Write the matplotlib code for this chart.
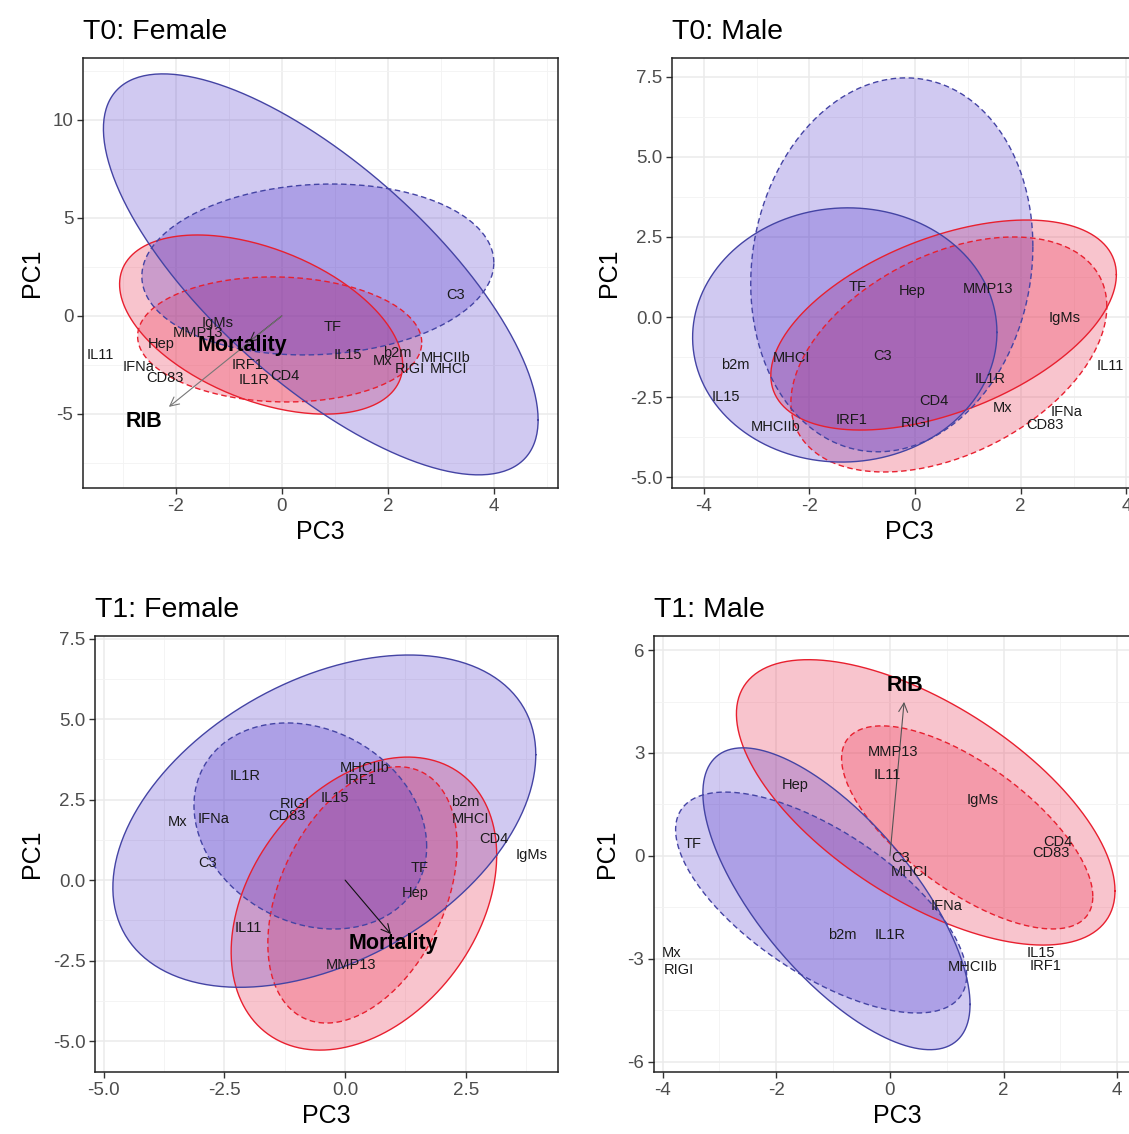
import matplotlib
matplotlib.use("Agg")
import matplotlib.pyplot as plt
import numpy as np

plt.rcParams['font.family'] = ['Liberation Sans', 'DejaVu Sans']

genes = ["b2m", "C3", "CD4", "CD83", "Hep", "IFNa", "IgMs", "IL11", "IL15",
         "IL1R", "IRF1", "MHCI", "MHCIIb", "MMP13", "Mx", "RIGI", "TF"]

# gene loadings, PC3 (x) and PC1 (y), same order as genes
t0f_x = [2.17, 3.28, 0.06, -2.21, -2.28, -2.70, -1.21, -3.43, 1.25,
         -0.53, -0.64, 3.15, 3.09, -1.58, 1.91, 2.42, 0.96]
t0f_y = [-1.89, 1.07, -3.06, -3.16, -1.43, -2.60, -0.36, -2.00, -1.99,
         -3.27, -2.50, -2.70, -2.14, -0.87, -2.30, -2.70, -0.56]
t0m_x = [-3.41, -0.62, 0.36, 2.46, -0.06, 2.86, 2.84, 3.69, -3.58,
         1.42, -1.21, -2.33, -2.63, 1.38, 1.65, 0.02, -1.08]
t0m_y = [-1.50, -1.22, -2.63, -3.38, 0.81, -2.97, -0.03, -1.53, -2.50,
         -1.94, -3.22, -1.28, -3.44, 0.88, -2.84, -3.31, 0.94]
t1f_x = [2.48, -2.84, 3.08, -1.20, 1.45, -2.73, 3.87, -2.01, -0.21,
         -2.07, 0.33, 2.59, 0.41, 0.12, -3.46, -1.04, 1.55]
t1f_y = [2.42, 0.53, 1.27, 1.99, -0.40, 1.89, 0.78, -1.49, 2.55,
         3.23, 3.11, 1.89, 3.48, -2.64, 1.80, 2.36, 0.37]
t1m_x = [-0.83, 0.18, 2.96, 2.83, -1.67, 0.99, 1.64, -0.05, 2.66,
         0.00, 2.73, 0.35, 1.46, 0.05, -3.84, -3.71, -3.47]
t1m_y = [-2.30, -0.06, 0.41, 0.09, 2.07, -1.46, 1.63, 2.36, -2.83,
         -2.30, -3.20, -0.47, -3.24, 3.03, -2.83, -3.32, 0.35]

# ellipses: centre x, centre y, half range x, half range y, correlation
# order: red solid, red dashed, blue solid, blue dashed (drawn in this order)
t0f_ell = [[-0.39, -0.44, 2.67, 4.57, -0.45],
           [-0.04, -1.20, 2.68, 3.19, -0.05],
           [0.735, 2.12, 4.10, 10.23, -0.726],
           [0.68, 2.37, 3.32, 4.36, 0.08]]
t0m_ell = [[0.54, -0.25, 3.27, 3.28, 0.48],
           [0.64, -1.17, 2.99, 3.67, 0.41],
           [-1.33, -0.56, 2.88, 3.97, 0.02],
           [-0.44, 1.63, 2.67, 5.84, 0.10]]
t1f_ell = [[0.39, -0.73, 2.75, 4.55, 0.33],
           [0.36, -0.46, 1.96, 3.98, 0.38],
           [-0.43, 1.83, 4.38, 5.16, 0.40],
           [-0.72, 1.68, 2.41, 3.20, -0.20]]
t1m_ell = [[0.63, 1.56, 3.33, 4.16, -0.62],
           [1.36, 0.83, 2.21, 2.96, -0.68],
           [-0.94, -1.25, 2.35, 4.40, -0.70],
           [-1.21, -1.36, 2.56, 3.22, -0.66]]

# covariate arrows: name, tip x, tip y, label x, label y, colour
t0f_arrows = [["Mortality", -0.62, -1.33, -0.74, -1.53, "#222222"],
              ["RIB", -2.13, -4.64, -2.60, -5.41, "#777777"]]
t0m_arrows = []
t1f_arrows = [["Mortality", 0.95, -1.68, 1.01, -1.96, "#111111"]]
t1m_arrows = [["RIB", 0.25, 4.49, 0.26, 4.96, "#555555"]]

ell_edge = ["#e8202f", "#e8202f", "#4444a4", "#4444a4"]
ell_fill = ["#eb3c5a", "#eb3c5a", "#4628c8", "#4628c8"]
ell_alpha = [0.3, 0.3, 0.25, 0.25]
ell_ls = ["-", (0, (4, 2.5)), "-", (0, (4, 2.5))]

W, H = 1129, 1134
fig = plt.figure(figsize=(W / 100, H / 100), dpi=100)


def add_panel(box, title, xs, ys, ells, arrows, xlim, ylim, xmaj, ymaj, xfmt, yfmt):
    l, t, r, b = box
    ax = fig.add_axes([l / W, 1 - b / H, (r - l) / W, (b - t) / H])
    ax.set_xticks(xmaj)
    ax.set_yticks(ymaj)
    ax.set_xticklabels([xfmt.format(v) for v in xmaj])
    ax.set_yticklabels([yfmt.format(v) for v in ymaj])
    dx = (xmaj[1] - xmaj[0]) / 2
    dy = (ymaj[1] - ymaj[0]) / 2
    ax.set_xticks(np.arange(xmaj[0] - 4 * dx, xmaj[-1] + 4 * dx, 2 * dx) + dx, minor=True)
    ax.set_yticks(np.arange(ymaj[0] - 4 * dy, ymaj[-1] + 4 * dy, 2 * dy) + dy, minor=True)
    ax.set_xlim(*xlim)
    ax.set_ylim(*ylim)
    ax.grid(True, which='major', color='#ebebeb', lw=1.1, zorder=0)
    ax.grid(True, which='minor', color='#f3f3f3', lw=0.6, zorder=0)
    ax.set_axisbelow(True)
    ax.tick_params(which='minor', length=0)
    ax.tick_params(which='major', length=4, width=1, color='#333333',
                   labelsize=13.5, labelcolor='#4d4d4d', pad=3)
    for s in ax.spines.values():
        s.set_color('#222222')
        s.set_linewidth(1.1)

    tt = np.linspace(0, 2 * np.pi, 300)
    for i, (cx, cy, rx, ry, rho) in enumerate(ells):
        ex = cx + rx * np.cos(tt)
        ey = cy + ry * (rho * np.cos(tt) + np.sqrt(1 - rho ** 2) * np.sin(tt))
        ax.fill(ex, ey, color=ell_fill[i], alpha=ell_alpha[i], lw=0, zorder=2)
        ax.plot(ex, ey, color=ell_edge[i], ls=ell_ls[i], lw=1.0, zorder=3)

    for g, x, y in zip(genes, xs, ys):
        ax.text(x, y, g, ha='center', va='center', fontsize=10.5,
                color='#1a1a1a', zorder=5)

    for name, ex, ey, lx, ly, c in arrows:
        ax.annotate("", xy=(ex, ey), xytext=(0, 0),
                    arrowprops=dict(arrowstyle='->', color=c, lw=0.8,
                                    mutation_scale=16, shrinkA=0, shrinkB=0),
                    zorder=4)
        ax.text(lx, ly, name, ha='center', va='center', fontsize=15.5,
                fontweight='bold', color='black', zorder=6)

    ax.set_title(title, loc='left', fontsize=20.5, pad=14)
    ax.set_xlabel("PC3", fontsize=18, labelpad=4)
    ax.set_ylabel("PC1", fontsize=18, labelpad=6)
    return ax


add_panel((83, 58, 558, 488), "T0: Female", t0f_x, t0f_y, t0f_ell, t0f_arrows,
          (-3.75, 5.21), (-8.78, 13.16), [-2, 0, 2, 4], [-5, 0, 5, 10], "{:g}", "{:g}")
add_panel((672, 58, 1147, 488), "T0: Male", t0m_x, t0m_y, t0m_ell, t0m_arrows,
          (-4.6, 4.39), (-5.34, 8.09), [-4, -2, 0, 2, 4], [-5, -2.5, 0, 2.5, 5, 7.5],
          "{:g}", "{:.1f}")
add_panel((95, 636, 558, 1072), "T1: Female", t1f_x, t1f_y, t1f_ell, t1f_arrows,
          (-5.18, 4.41), (-5.96, 7.58), [-5, -2.5, 0, 2.5], [-5, -2.5, 0, 2.5, 5, 7.5],
          "{:.1f}", "{:.1f}")
add_panel((654, 636, 1140, 1072), "T1: Male", t1m_x, t1m_y, t1m_ell, t1m_arrows,
          (-4.15, 4.4), (-6.3, 6.41), [-4, -2, 0, 2, 4], [-6, -3, 0, 3, 6], "{:g}", "{:g}")

fig.savefig("out.png", dpi=100)
